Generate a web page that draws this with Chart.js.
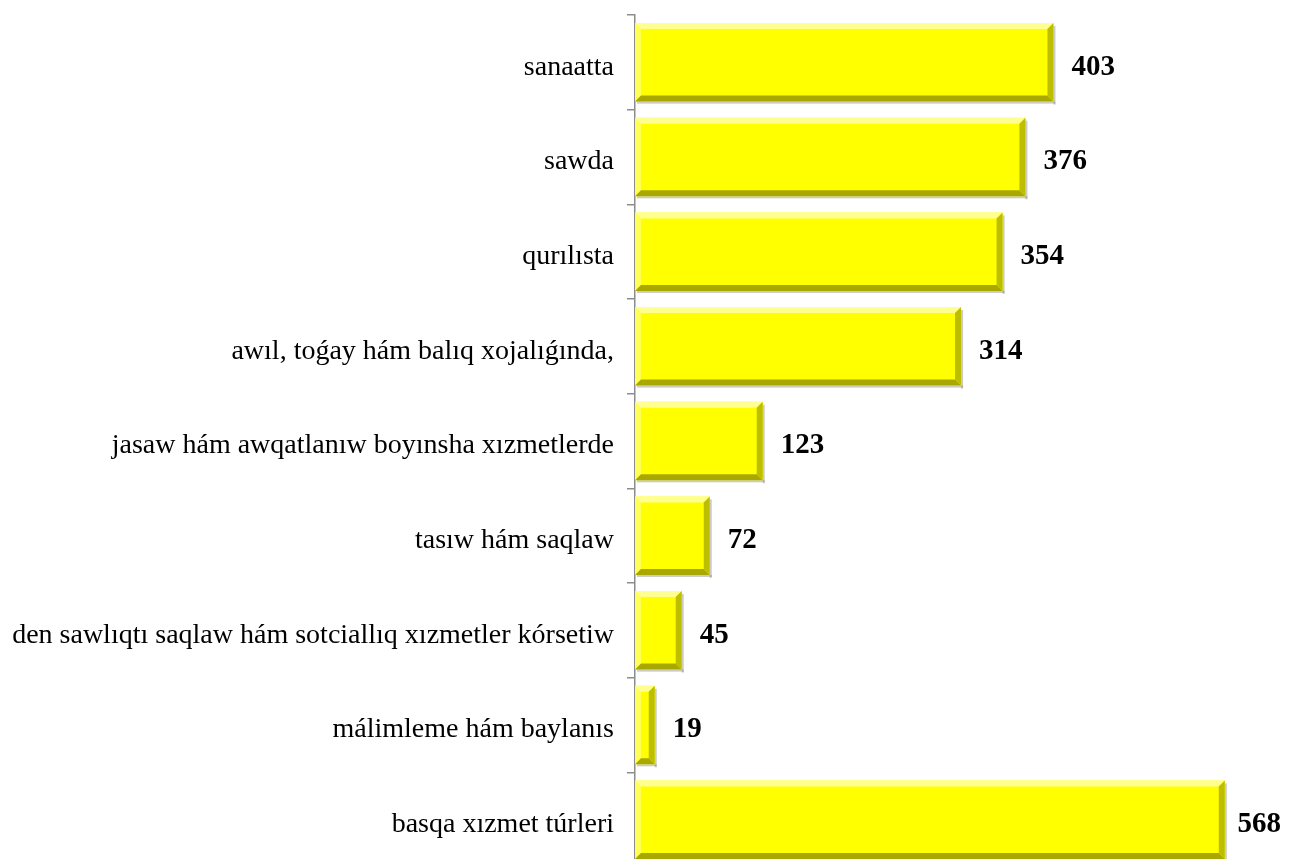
<!DOCTYPE html>
<html>
<head>
<meta charset="utf-8">
<script src="https://cdn.jsdelivr.net/npm/chart.js@4"></script>
<style>
  html, body { margin: 0; padding: 0; background: #fff; overflow: hidden; }
  #wrap { width: 1290px; height: 868px; position: relative; }
</style>
</head>
<body>
<div id="wrap"><canvas id="grafik"></canvas></div>
<script>
// Kategoriyalar hám mánisler (súwretten oqılǵan)
const kategoriyalar = [
    "sanaatta",
    "sawda",
    "qurılısta",
    "awıl, toǵay hám balıq xojalıǵında,",
    "jasaw hám awqatlanıw boyınsha xızmetlerde",
    "tasıw hám saqlaw",
    "den sawlıqtı saqlaw hám sotciallıq xızmetler kórsetiw",
    "málimleme hám baylanıs",
    "basqa xızmet túrleri"
];
const manisler = [403, 376, 354, 314, 123, 72, 45, 19, 568];
const xMax = 600;

// Bevel (shıǵıńqı) effekti hám mánis jazıwları
const bevelPlugin = {
    id: 'bevel',
    afterDatasetsDraw(chart) {
        const ctx = chart.ctx;
        const meta = chart.getDatasetMeta(0);
        meta.data.forEach((bar, i) => {
            const left = bar.base, right = bar.x;
            const top = bar.y - bar.height / 2, bottom = bar.y + bar.height / 2;
            const w = right - left, h = bottom - top;
            const b = Math.min(6, w / 2);
            ctx.save();
            // saya
            ctx.fillStyle = 'rgba(110,110,80,0.35)';
            ctx.fillRect(left + 2, bottom, w, 2);
            ctx.fillRect(right, top + 3, 2, h);
            // ústi - jaqtı
            ctx.fillStyle = 'rgba(255,255,170,0.85)';
            ctx.beginPath();
            ctx.moveTo(left, top); ctx.lineTo(right, top);
            ctx.lineTo(right - b, top + b); ctx.lineTo(left + b, top + b);
            ctx.closePath(); ctx.fill();
            // shep - jaqtılaw
            ctx.fillStyle = 'rgba(255,255,110,0.8)';
            ctx.beginPath();
            ctx.moveTo(left, top); ctx.lineTo(left + b, top + b);
            ctx.lineTo(left + b, bottom - b); ctx.lineTo(left, bottom);
            ctx.closePath(); ctx.fill();
            // astı - qarańǵı
            ctx.fillStyle = '#a8a800';
            ctx.beginPath();
            ctx.moveTo(left, bottom); ctx.lineTo(right, bottom);
            ctx.lineTo(right - b, bottom - b); ctx.lineTo(left + b, bottom - b);
            ctx.closePath(); ctx.fill();
            // oń - qarańǵılaw
            ctx.fillStyle = '#bebe00';
            ctx.beginPath();
            ctx.moveTo(right, top); ctx.lineTo(right, bottom);
            ctx.lineTo(right - b, bottom - b); ctx.lineTo(right - b, top + b);
            ctx.closePath(); ctx.fill();

            // mánis (oń shetten shıǵıp ketpewi ushın)
            const tekst = String(manisler[i]);
            ctx.fillStyle = '#000';
            ctx.font = 'bold 29px "Liberation Serif", "Times New Roman", serif';
            ctx.textAlign = 'left';
            ctx.textBaseline = 'middle';
            const tw = ctx.measureText(tekst).width;
            const tx = Math.min(right + 18, 1281 - tw);
            ctx.fillText(tekst, tx, bar.y + 5);
            ctx.restore();
        });
    }
};

new Chart(document.getElementById('grafik'), {
    type: 'bar',
    data: {
        labels: kategoriyalar,
        datasets: [{
            data: manisler,
            backgroundColor: '#ffff00',
            borderWidth: 0,
            barPercentage: 0.83,
            categoryPercentage: 1.0
        }]
    },
    options: {
        indexAxis: 'y',
        responsive: true,
        maintainAspectRatio: false,
        animation: false,
        layout: { padding: { top: 15, right: 32, bottom: 1, left: 0 } },
        plugins: {
            legend: { display: false },
            tooltip: { enabled: false }
        },
        scales: {
            x: { display: false, min: 0, max: xMax },
            y: {
                offset: true,
                afterFit(scale) {
                    scale.width = 635;
                    scale.paddingTop = 0;
                    scale.paddingBottom = 0;
                },
                border: { display: true, color: '#8c8c8c', width: 1.5 },
                grid: {
                    offset: true,
                    drawOnChartArea: false,
                    drawTicks: true,
                    tickLength: 8,
                    color: '#8c8c8c',
                    lineWidth: 1.5
                },
                ticks: {
                    color: '#000',
                    padding: 13,
                    labelOffset: 5,
                    font: { family: '"Liberation Serif", "Times New Roman", serif', size: 28 }
                }
            }
        }
    },
    plugins: [bevelPlugin]
});
</script>
</body>
</html>
